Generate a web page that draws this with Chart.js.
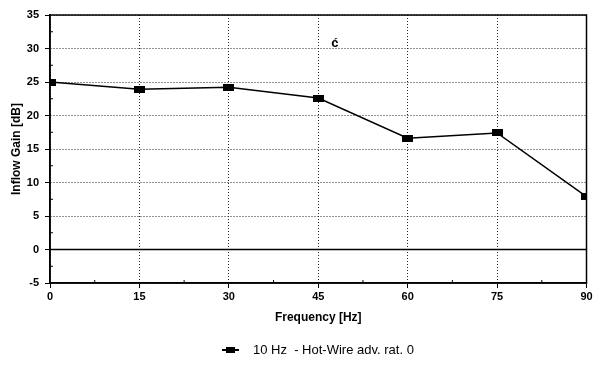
<!DOCTYPE html>
<html>
<head>
<meta charset="utf-8">
<script src="https://cdn.jsdelivr.net/npm/chart.js@4.4.1/dist/chart.umd.min.js"></script>
<style>
  body { margin: 0; background: #fff; }
  #gainChart { display: block; }
</style>
</head>
<body>
<canvas id="gainChart" width="593" height="376"></canvas>
<script>
// frequencies and measured inflow gain
const frequencies = [0, 15, 30, 45, 60, 75, 90];
const inflowGain = [25.0, 23.9, 24.2, 22.6, 16.6, 17.4, 7.9];
const seriesName = '10 Hz  - Hot-Wire adv. rat. 0';
const xTicks = [0, 15, 30, 45, 60, 75, 90];
const yTicks = [-5, 0, 5, 10, 15, 20, 25, 30, 35];

const FONT = 'Liberation Sans, Arial, sans-serif';

// black square marker, a bit wider than tall
function makeMarker() {
    const c = document.createElement('canvas');
    c.width = 11; c.height = 7;
    const g = c.getContext('2d');
    g.fillStyle = '#000';
    g.fillRect(0, 0, 11, 7);
    return c;
}

const marker = makeMarker();

// solid frame, solid zero line and minor ticks on top of the dotted grid
const framePlugin = {
    id: 'frame',
    afterDraw(chart) {
        const { ctx, chartArea: a, scales: { x, y } } = chart;
        ctx.save();
        ctx.strokeStyle = '#000';
        ctx.lineWidth = 1.5;
        ctx.strokeRect(a.left, a.top, a.right - a.left, a.bottom - a.top);
        const y0 = y.getPixelForValue(0);
        ctx.beginPath();
        ctx.moveTo(a.left, y0);
        ctx.lineTo(a.right, y0);
        ctx.stroke();
        ctx.lineWidth = 1;
        ctx.beginPath();
        for (let v = 7.5; v < 90; v += 15) {
            const px = x.getPixelForValue(v);
            ctx.moveTo(px, a.bottom);
            ctx.lineTo(px, a.bottom - 3);
        }
        for (let v = -2.5; v < 35; v += 5) {
            const py = y.getPixelForValue(v);
            ctx.moveTo(a.left, py);
            ctx.lineTo(a.left + 3, py);
        }
        ctx.stroke();
        // small stray mark in the upper plot area
        ctx.fillStyle = '#000';
        ctx.font = 'bold 13px ' + FONT;
        ctx.textAlign = 'center';
        ctx.textBaseline = 'middle';
        ctx.fillText('ć', x.getPixelForValue(47.8), y.getPixelForValue(30.8));
        ctx.restore();
    }
};

// legend under the axis title: "-■-" glyph followed by the series name
const legendPlugin = {
    id: 'seriesKey',
    afterDraw(chart) {
        const { ctx } = chart;
        const ds = chart.data.datasets[0];
        const gx = 222, cy = 350;
        ctx.save();
        ctx.fillStyle = ds.borderColor;
        ctx.fillRect(gx, cy - 1, 17, 2);
        ctx.fillRect(gx + 4, cy - 3, 9, 6);
        ctx.font = '13px ' + FONT;
        ctx.textAlign = 'left';
        ctx.textBaseline = 'middle';
        ctx.fillText(ds.label, gx + 31, cy);
        ctx.restore();
    }
};

const gridOpts = {
    color: '#222',
    lineWidth: 1,
    tickLength: 5,
    tickColor: '#000'
};

new Chart(document.getElementById('gainChart'), {
    type: 'line',
    data: {
        datasets: [{
            label: seriesName,
            data: frequencies.map((f, i) => ({ x: f, y: inflowGain[i] })),
            borderColor: '#000',
            borderWidth: 1.5,
            pointStyle: marker,
            pointRadius: 5,
            tension: 0,
            fill: false
        }]
    },
    options: {
        responsive: false,
        animation: false,
        layout: { padding: { left: 0, right: 5, top: 15, bottom: 48 } },
        plugins: {
            legend: { display: false },
            tooltip: { enabled: false }
        },
        scales: {
            x: {
                type: 'linear',
                min: 0,
                max: 90,
                afterBuildTicks: s => { s.ticks = xTicks.map(v => ({ value: v })); },
                afterFit: s => { s.height = 45; s.paddingRight = 0; s.paddingLeft = 0; },
                grid: gridOpts,
                border: { display: true, color: '#000', width: 1.5, dash: [1, 2] },
                ticks: {
                    color: '#000',
                    padding: 2,
                    maxRotation: 0,
                    font: { family: FONT, size: 11, weight: 'bold' }
                },
                title: {
                    display: true,
                    text: 'Frequency [Hz]',
                    color: '#000',
                    font: { family: FONT, size: 12, weight: 'bold' },
                    padding: { top: 0, bottom: 3 }
                }
            },
            y: {
                min: -5,
                max: 35,
                afterBuildTicks: s => { s.ticks = yTicks.map(v => ({ value: v })); },
                afterFit: s => { s.width = 50; },
                grid: gridOpts,
                border: { display: true, color: '#000', width: 1.5, dash: [1, 2] },
                ticks: {
                    color: '#000',
                    padding: 6,
                    font: { family: FONT, size: 11, weight: 'bold' }
                },
                title: {
                    display: true,
                    text: 'Inflow Gain [dB]',
                    color: '#000',
                    font: { family: FONT, size: 12, weight: 'bold' },
                    padding: { top: 9, bottom: 0 }
                }
            }
        }
    },
    plugins: [framePlugin, legendPlugin]
});
</script>
</body>
</html>
